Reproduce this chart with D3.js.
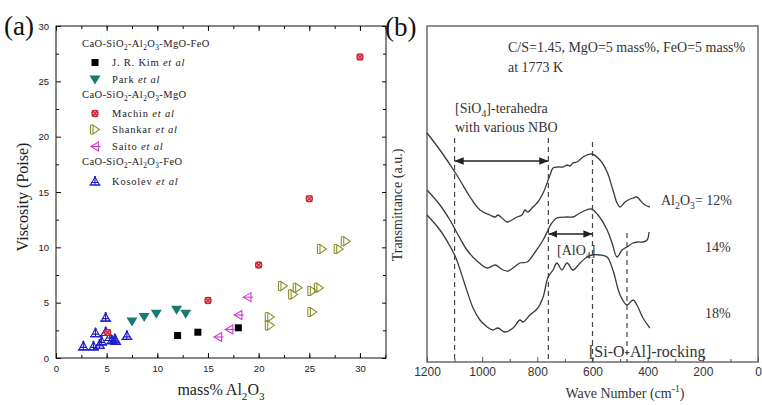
<!DOCTYPE html>
<html><head><meta charset="utf-8">
<script src="https://cdn.jsdelivr.net/npm/d3@7/dist/d3.min.js"></script>
<style>
body{margin:0;background:#fff;}
svg{display:block;}
.serif{font-family:"Liberation Serif","Times New Roman",Times,serif;}
.sans{font-family:"Liberation Sans",Arial,sans-serif;}
</style></head>
<body>
<svg id="c" width="762" height="405"></svg>
<script>
// ---------- Panel (a) data: viscosity vs mass% Al2O3 ----------
const aXTicks = [0, 5, 10, 15, 20, 25, 30];
const aYTicks = [0, 5, 10, 15, 20, 25, 30];
const kimData = [[12.0, 2.03], [14.0, 2.33], [18.0, 2.73]];
const parkData = [[7.5, 3.3], [8.7, 3.7], [9.9, 4.0], [11.9, 4.35], [12.8, 4.0]];
const machinData = [[5.1, 2.3], [15.0, 5.2], [20.0, 8.4], [25.0, 14.4], [30.0, 27.2]];
const shankarData = [[21.1, 3.7], [21.1, 2.95], [22.4, 6.5], [23.4, 5.75], [23.85, 6.35], [25.3, 6.05],
                     [25.95, 6.35], [25.3, 4.15], [26.25, 9.85], [27.9, 9.85], [28.6, 10.55]];
const saitoData = [[16.0, 1.9], [17.1, 2.58], [18.0, 3.88], [18.9, 5.5]];
const kosolevData = [[2.7, 1.05], [3.7, 1.05], [4.3, 1.2], [4.5, 1.5], [3.9, 2.25], [4.9, 3.65], [4.9, 2.35],
                     [5.3, 1.9], [5.5, 1.6], [5.8, 1.7], [5.9, 1.55], [7.0, 2.0]];

// ---------- Panel (b) data: FTIR transmittance vs wave number ----------
const bXTicks = [1200, 1000, 800, 600, 400, 200, 0];
const curve12 = [[1200,2.29],[1153,2.12],[1092,1.87],[1044,1.65],[1008,1.52],[972,1.47],[953,1.45],[943,1.47],
  [928,1.44],[910,1.40],[892,1.42],[874,1.45],[856,1.47],[845,1.52],[834,1.50],[816,1.55],[798,1.60],[779,1.69],
  [754,1.87],[743,1.94],[725,1.95],[707,1.95],[692,1.97],[682,1.96],[671,1.99],[656,2.00],[634,2.05],[602,2.08],
  [573,2.02],[547,1.90],[526,1.72],[511,1.59],[500,1.55],[482,1.60],[471,1.62],[453,1.64],[439,1.65],[428,1.62],
  [410,1.57],[392,1.55]];
const curve14 = [[1200,1.72],[1153,1.57],[1117,1.42],[1091,1.29],[1055,1.12],[1019,1.01],[982,0.94],[953,0.97],
  [935,0.94],[924,0.92],[906,0.91],[888,0.94],[863,0.99],[837,1.00],[808,1.10],[779,1.22],[761,1.32],[750,1.38],
  [729,1.44],[692,1.45],[671,1.45],[645,1.49],[605,1.53],[580,1.47],[547,1.32],[529,1.19],[511,1.05],[493,1.12],
  [475,1.15],[453,1.19],[435,1.20],[417,1.20],[402,1.22],[395,1.30]];
const curve18 = [[1200,1.47],[1153,1.32],[1117,1.16],[1095,1.04],[1062,0.77],[1033,0.54],[1008,0.42],[982,0.35],
  [961,0.32],[943,0.34],[917,0.30],[888,0.34],[863,0.42],[852,0.40],[827,0.47],[798,0.54],[779,0.65],[761,0.85],
  [743,0.92],[729,0.99],[711,0.92],[692,0.99],[671,0.92],[645,0.99],[620,1.05],[602,1.07],[573,1.07],[547,1.05],
  [526,0.92],[500,0.67],[475,0.57],[453,0.62],[439,0.57],[417,0.44],[392,0.34]];
const dashedLines = [[1100, 2.24], [760, 2.24], [600, 2.20], [475, 1.29]]; // [wave number, top a.u.]
const arrowSiO4 = [1100, 760, 2.01];
const arrowAlO4 = [760, 600, 1.28];

const svg = d3.select('#c');

function rich(g, x, y, parts, size, color, anchor) {
  const t = g.append('text').attr('class', 'serif').attr('x', x).attr('y', y)
    .attr('font-size', size).attr('fill', color || '#111').attr('text-anchor', anchor || 'start');
  let pending = 0;
  parts.forEach(p => {
    let s, shift = 0;
    if (typeof p === 'string') {
      s = t.append('tspan').text(p);
    } else if (p.kind === 'sub') {
      s = t.append('tspan').attr('font-size', size * 0.7).text(p.text); shift = size * 0.3;
    } else if (p.kind === 'sup') {
      s = t.append('tspan').attr('font-size', size * 0.7).text(p.text); shift = -size * 0.4;
    } else {
      s = t.append('tspan').attr('font-style', 'italic').text(p.text);
    }
    const dy = pending + shift;
    if (Math.abs(dy) > 1e-9) s.attr('dy', dy);
    pending = -shift;
  });
  return t;
}
const sub = s => ({ kind: 'sub', text: s });
const sup = s => ({ kind: 'sup', text: s });
const it = s => ({ kind: 'it', text: s });

// ====================== PANEL (a) ======================
const xA = d3.scaleLinear().domain([0, 32.57]).range([56, 386]);
const yA = d3.scaleLinear().domain([0, 30]).range([358, 26]);
const gA = svg.append('g');
const minorA = d3.range(0, 32.6, 2.5);

gA.append('rect').attr('x', xA(0)).attr('y', yA(30)).attr('width', xA(32.57) - xA(0))
  .attr('height', yA(0) - yA(30)).attr('fill', 'none').attr('stroke', '#111').attr('stroke-width', 1);

function styleAxis(g, fs, col) {
  g.select('.domain').remove();
  g.selectAll('line').attr('stroke', '#111');
  g.selectAll('text').attr('font-size', fs).attr('font-family', null).attr('class', 'sans').attr('fill', col);
}
gA.append('g').attr('transform', `translate(0,${yA(0)})`)
  .call(d3.axisBottom(xA).tickValues(aXTicks).tickSizeInner(-5).tickSizeOuter(0).tickPadding(7).tickFormat(d3.format('d')))
  .call(g => styleAxis(g, 9.5, '#222'));
gA.append('g').attr('transform', `translate(0,${yA(0)})`)
  .call(d3.axisBottom(xA).tickValues(minorA).tickSizeInner(-3).tickSizeOuter(0).tickFormat(''))
  .call(g => styleAxis(g, 9, '#222'));
gA.append('g').attr('transform', `translate(0,${yA(30)})`)
  .call(d3.axisTop(xA).tickValues(aXTicks).tickSizeInner(-5).tickSizeOuter(0).tickFormat(''))
  .call(g => styleAxis(g, 9, '#222'));
gA.append('g').attr('transform', `translate(0,${yA(30)})`)
  .call(d3.axisTop(xA).tickValues(minorA).tickSizeInner(-3).tickSizeOuter(0).tickFormat(''))
  .call(g => styleAxis(g, 9, '#222'));
gA.append('g').attr('transform', `translate(${xA(0)},0)`)
  .call(d3.axisLeft(yA).tickValues(aYTicks).tickSizeInner(-5).tickSizeOuter(0).tickPadding(7).tickFormat(d3.format('d')))
  .call(g => styleAxis(g, 9.5, '#222'));
gA.append('g').attr('transform', `translate(${xA(0)},0)`)
  .call(d3.axisLeft(yA).tickValues(d3.range(2.5, 30, 5)).tickSizeInner(-3).tickSizeOuter(0).tickFormat(''))
  .call(g => styleAxis(g, 9, '#222'));
gA.append('g').attr('transform', `translate(${xA(32.57)},0)`)
  .call(d3.axisRight(yA).tickValues(aYTicks).tickSizeInner(-4).tickSizeOuter(0).tickFormat(''))
  .call(g => styleAxis(g, 9, '#222'));
gA.append('g').attr('transform', `translate(${xA(32.57)},0)`)
  .call(d3.axisRight(yA).tickValues(d3.range(2.5, 30, 5)).tickSizeInner(-3).tickSizeOuter(0).tickFormat(''))
  .call(g => styleAxis(g, 9, '#222'));

// markers
const colKim = '#000', colPark = '#1a7a70', colMachin = '#cc2233', colShankar = '#8e8e2e',
      colSaito = '#d23ad2', colKosolev = '#1c1ccc';
function marker(g, type, x, y) {
  const m = g.append('g').attr('transform', `translate(${x},${y})`);
  if (type === 'kim') {
    m.append('rect').attr('x', -3.5).attr('y', -3.5).attr('width', 7).attr('height', 7).attr('fill', colKim);
  } else if (type === 'park') {
    m.append('path').attr('d', 'M-5.5,-4 L5.5,-4 L0,5 Z').attr('fill', colPark);
  } else if (type === 'machin') {
    m.append('circle').attr('r', 3).attr('fill', '#f6c8cc').attr('stroke', colMachin).attr('stroke-width', 1.4);
    m.append('path').attr('d', 'M-3,-3 L3,3 M-3,3 L3,-3').attr('stroke', colMachin).attr('stroke-width', 1.2);
  } else if (type === 'shankar') {
    m.append('path').attr('d', 'M-2,-4.5 L-2,4.5 L4.5,0 Z').attr('fill', 'none').attr('stroke', colShankar).attr('stroke-width', 1.1);
    m.append('path').attr('d', 'M-4.5,-4.5 L-4.5,4.5 M-4.5,-4.5 L-2,-4.5 M-4.5,4.5 L-2,4.5').attr('fill', 'none').attr('stroke', colShankar).attr('stroke-width', 1.1);
  } else if (type === 'saito') {
    m.append('path').attr('d', 'M3.5,-4.5 L3.5,4.5 L-4,0 Z').attr('fill', 'none').attr('stroke', colSaito).attr('stroke-width', 1.1);
    m.append('path').attr('d', 'M-4.5,0 L5.5,0').attr('stroke', colSaito).attr('stroke-width', 1.1);
  } else if (type === 'kosolev') {
    m.append('path').attr('d', 'M0,-4.5 L-4.5,3.5 L4.5,3.5 Z').attr('fill', 'none').attr('stroke', colKosolev).attr('stroke-width', 1.1);
    m.append('path').attr('d', 'M0,-5 L0,3.5 M-3.5,1 L3.5,1 M-5.5,3.5 L5.5,3.5').attr('stroke', colKosolev).attr('stroke-width', 1.1);
    m.append('circle').attr('cy', -4.5).attr('r', 1.1).attr('fill', colKosolev);
  }
  return m;
}
const series = [
  ['kosolev', kosolevData], ['park', parkData], ['kim', kimData],
  ['saito', saitoData], ['shankar', shankarData], ['machin', machinData]
];
series.forEach(([t, data]) => data.forEach(d => marker(gA, t, xA(d[0]), yA(d[1]))));

// legend
const lg = gA.append('g');
const legFs = 10.5;
function header(y, parts) {
  rich(lg, 82, y, parts, legFs, '#222').attr('letter-spacing', 0.4);
}
function entry(y, type, name) {
  marker(lg, type, 95, y - 3.5);
  rich(lg, 112, y, [name, ' ', it('et al')], legFs, '#222').attr('letter-spacing', 0.8);
}
header(47, ['CaO-SiO', sub('2'), '-Al', sub('2'), 'O', sub('3'), '-MgO-FeO']);
entry(66, 'kim', 'J. R. Kim');
entry(83, 'park', 'Park');
header(98, ['CaO-SiO', sub('2'), '-Al', sub('2'), 'O', sub('3'), '-MgO']);
entry(117, 'machin', 'Machin');
entry(133, 'shankar', 'Shankar');
entry(150, 'saito', 'Saito');
header(165, ['CaO-SiO', sub('2'), '-Al', sub('2'), 'O', sub('3'), '-FeO']);
entry(185, 'kosolev', 'Kosolev');

// axis titles
svg.append('text').attr('class', 'serif').attr('transform', 'translate(28,197) rotate(-90)').attr('text-anchor', 'middle')
  .attr('font-size', 16).attr('fill', '#222').text('Viscosity (Poise)');
rich(svg, 221, 395, ['mass% Al', sub('2'), 'O', sub('3')], 16, '#222', 'middle');
svg.append('text').attr('class', 'serif').attr('x', 4).attr('y', 35).attr('font-size', 27).attr('fill', '#111').text('(a)');

// ====================== PANEL (b) ======================
const xB = d3.scaleLinear().domain([1200, 0]).range([427, 758]);
const yB = d3.scaleLinear().domain([0, 3.36]).range([362, 26]);
const gB = svg.append('g');
gB.append('rect').attr('x', xB(1200)).attr('y', yB(3.36)).attr('width', xB(0) - xB(1200))
  .attr('height', yB(0) - yB(3.36)).attr('fill', 'none').attr('stroke', '#555').attr('stroke-width', 1.3);
gB.append('g').attr('transform', `translate(0,${yB(0)})`)
  .call(d3.axisBottom(xB).tickValues(bXTicks).tickSizeInner(-5).tickSizeOuter(0).tickPadding(5).tickFormat(d3.format('d')))
  .call(g => { styleAxis(g, 12, '#333'); g.selectAll('line').attr('stroke', '#555'); });
gB.append('g').attr('transform', `translate(0,${yB(0)})`)
  .call(d3.axisBottom(xB).tickValues(d3.range(100, 1200, 200)).tickSizeInner(-3).tickSizeOuter(0).tickFormat(''))
  .call(g => { styleAxis(g, 12, '#333'); g.selectAll('line').attr('stroke', '#555'); });

dashedLines.forEach(([w, top]) => {
  gB.append('line').attr('x1', xB(w)).attr('x2', xB(w)).attr('y1', yB(top)).attr('y2', yB(0))
    .attr('stroke', '#444').attr('stroke-width', 1.2).attr('stroke-dasharray', '5,4');
});

const line = d3.line().x(d => xB(d[0])).y(d => yB(d[1])).curve(d3.curveCatmullRom.alpha(0.5));
[curve12, curve14, curve18].forEach(c => {
  gB.append('path').attr('d', line(c)).attr('fill', 'none').attr('stroke', '#3a3a3a').attr('stroke-width', 1.3);
});

svg.append('defs').html(
  '<marker id="ah" viewBox="0 0 10 10" refX="10" refY="5" markerWidth="7" markerHeight="7" orient="auto-start-reverse">' +
  '<path d="M0,1 L10,5 L0,9 Z" fill="#222"/></marker>');
[arrowSiO4, arrowAlO4].forEach(([w1, w2, v]) => {
  gB.append('line').attr('x1', xB(w1)).attr('x2', xB(w2)).attr('y1', yB(v)).attr('y2', yB(v))
    .attr('stroke', '#222').attr('stroke-width', 1.3)
    .attr('marker-start', 'url(#ah)').attr('marker-end', 'url(#ah)');
});

const tc = '#333';
rich(gB, 508, 52, ['C/S=1.45, MgO=5 mass%, FeO=5 mass%'], 14, tc);
rich(gB, 508, 72, ['at 1773 K'], 14, tc);
rich(gB, 455, 113, ['[SiO', sub('4'), ']-terahedra'], 14, tc);
rich(gB, 455, 132, ['with various NBO'], 14, tc);
rich(gB, 661, 205, ['Al', sub('2'), 'O', sub('3'), '= 12%'], 14, tc);
rich(gB, 705, 252, ['14%'], 14, tc);
rich(gB, 705, 318, ['18%'], 14, tc);
rich(gB, 557, 255, ['[AlO', sub('4'), ']'], 14, tc);
rich(gB, 589, 357, ['[Si-O-Al]-rocking'], 16, tc);
rich(gB, 625, 398, ['Wave Number (cm', sup('-1'), ')'], 14, tc, 'middle');
svg.append('text').attr('class', 'serif').attr('transform', 'translate(402,205) rotate(-90)').attr('text-anchor', 'middle')
  .attr('font-size', 14).attr('fill', tc).text('Transmittance (a.u.)');
svg.append('text').attr('class', 'serif').attr('x', 385).attr('y', 36).attr('font-size', 27).attr('fill', '#111').text('(b)');
</script>
</body></html>
